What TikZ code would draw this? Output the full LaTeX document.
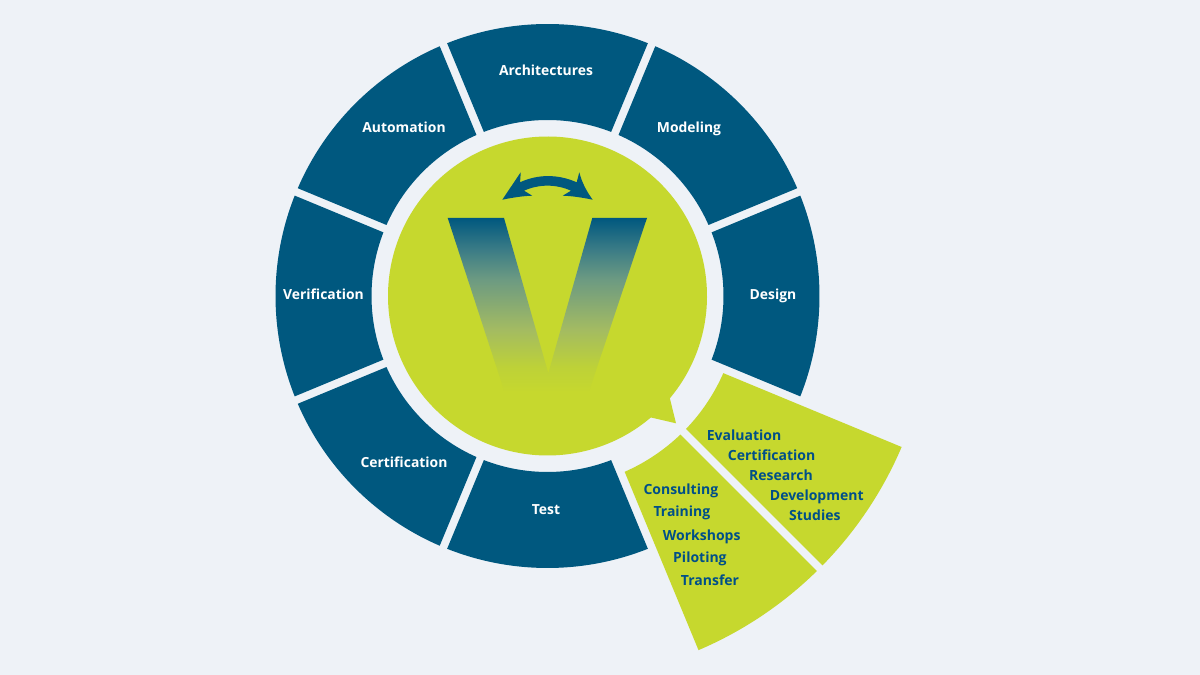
\documentclass[tikz,border=0pt]{standalone}
\usepackage{fontspec}
\setmainfont{Open Sans}
\definecolor{bgc}{HTML}{EEF2F7}
\definecolor{navy}{HTML}{00587F}
\definecolor{limec}{HTML}{C6D82E}
\definecolor{txtblue}{HTML}{004F88}
\pgfdeclareverticalshading{vgrad}{100bp}{
  color(0bp)=(limec); color(28bp)=(limec);
  rgb(35bp)=(0.741,0.820,0.220);
  rgb(45bp)=(0.639,0.733,0.384);
  rgb(58.5bp)=(0.424,0.604,0.510);
  rgb(66.5bp)=(0.231,0.486,0.525);
  color(75bp)=(navy); color(100bp)=(navy)}
\tikzset{
  sector/.style={draw=none},
  navysec/.style={sector,fill=navy},
  limesec/.style={sector,fill=limec},
  whitelabel/.style={text=white,font=\bfseries\fontsize{13.9}{15}\selectfont,inner sep=0pt,anchor=base},
  bluelabel/.style={text=txtblue,font=\bfseries\fontsize{14}{15}\selectfont,inner sep=0pt,anchor=base west}
}
% #1 style, #2 start angle, #3 end angle, #4 inner radius, #5 outer radius
\newcommand{\ringsector}[5]{%
  \pgfmathsetmacro{\di}{asin(4/#4)}%
  \pgfmathsetmacro{\dou}{asin(4/#5)}%
  \pgfmathsetmacro{\aa}{#2+\di}\pgfmathsetmacro{\ab}{#3-\di}%
  \pgfmathsetmacro{\ac}{#3-\dou}\pgfmathsetmacro{\ad}{#2+\dou}%
  \fill[#1] (\aa:#4) arc[start angle=\aa,end angle=\ab,radius=#4 pt]
    -- (\ac:#5) arc[start angle=\ac,end angle=\ad,radius=#5 pt] -- cycle;%
}
\begin{document}
\begin{tikzpicture}[x=1pt,y=1pt]
\fill[bgc] (0,0) rectangle (1200,675);
\useasboundingbox (0,0) rectangle (1200,675);
\begin{scope}[shift={(547.5,379)}]
  \ringsector{navysec}{67.5}{112.5}{176}{272}
  \ringsector{navysec}{22.5}{67.5}{176}{272}
  \ringsector{navysec}{-22.5}{22.5}{176}{272}
  \ringsector{navysec}{112.5}{157.5}{176}{272}
  \ringsector{navysec}{157.5}{202.5}{176}{272}
  \ringsector{navysec}{202.5}{247.5}{176}{272}
  \ringsector{navysec}{247.5}{292.5}{176}{272}
  \ringsector{limesec}{-45}{-22.5}{192}{385}
  \ringsector{limesec}{-67.5}{-45}{192}{385}
  % speech bubble
  \fill[limec] (128.5,-127.3) -- (-39.9:159.5) arc[start angle=-39.9,end angle=310.4,radius=159.5pt] -- cycle;
\end{scope}
% V
\shade[shading=vgrad]
  (447.7,457) -- (504,457) -- (548.3,301.7) -- (592.3,457) -- (647,457) -- (585,271.7) -- (508.3,271.7) -- cycle;
% double arrow
\fill[navy] (502.3,475.3) -- (520.7,502.7) .. controls (520.6,499) and (520.3,496) .. (520,492.7)
  .. controls (538,501) and (558,501) .. (576.7,492.7)
  .. controls (577.3,496) and (578.6,499) .. (579.3,502.7)
  .. controls (582,492) and (587,483) .. (592.7,475.3)
  .. controls (582,477.5) and (572,479) .. (562.7,479.3)
  -- (571,484.3) .. controls (556,491) and (539,491) .. (524,484.3)
  -- (532.3,479.3) .. controls (523,479) and (513,477.5) .. (502.3,475.3) -- cycle;
% ring labels
\node[whitelabel] (arch) at (546,599.7) {Architectures};
\node[whitelabel] (mod) at (689,542.7) {Modeling};
\node[whitelabel] (des) at (773,375.5) {Design};
\node[whitelabel] (tst) at (546,160.3) {Test};
\node[whitelabel] (cert) at (404,207.3) {Certification};
\node[whitelabel] (ver) at (323.5,375.3) {Verification};
\node[whitelabel] (aut) at (404,542.7) {Automation};
% lime labels
\node[bluelabel] (l1) at (706.7,234.3) {Evaluation};
\node[bluelabel] (l2) at (727.7,214.3) {Certification};
\node[bluelabel] (l3) at (749,194.5) {Research};
\node[bluelabel] (l4) at (769.7,174.3) {Development};
\node[bluelabel] (l5) at (789,154.3) {Studies};
\node[bluelabel] (m1) at (643.3,180.7) {Consulting};
\node[bluelabel] (m2) at (653.3,158) {Training};
\node[bluelabel] (m3) at (662.7,134.7) {Workshops};
\node[bluelabel] (m4) at (673,112.7) {Piloting};
\node[bluelabel] (m5) at (680.7,89.5) {Transfer};
\end{tikzpicture}
\end{document}
